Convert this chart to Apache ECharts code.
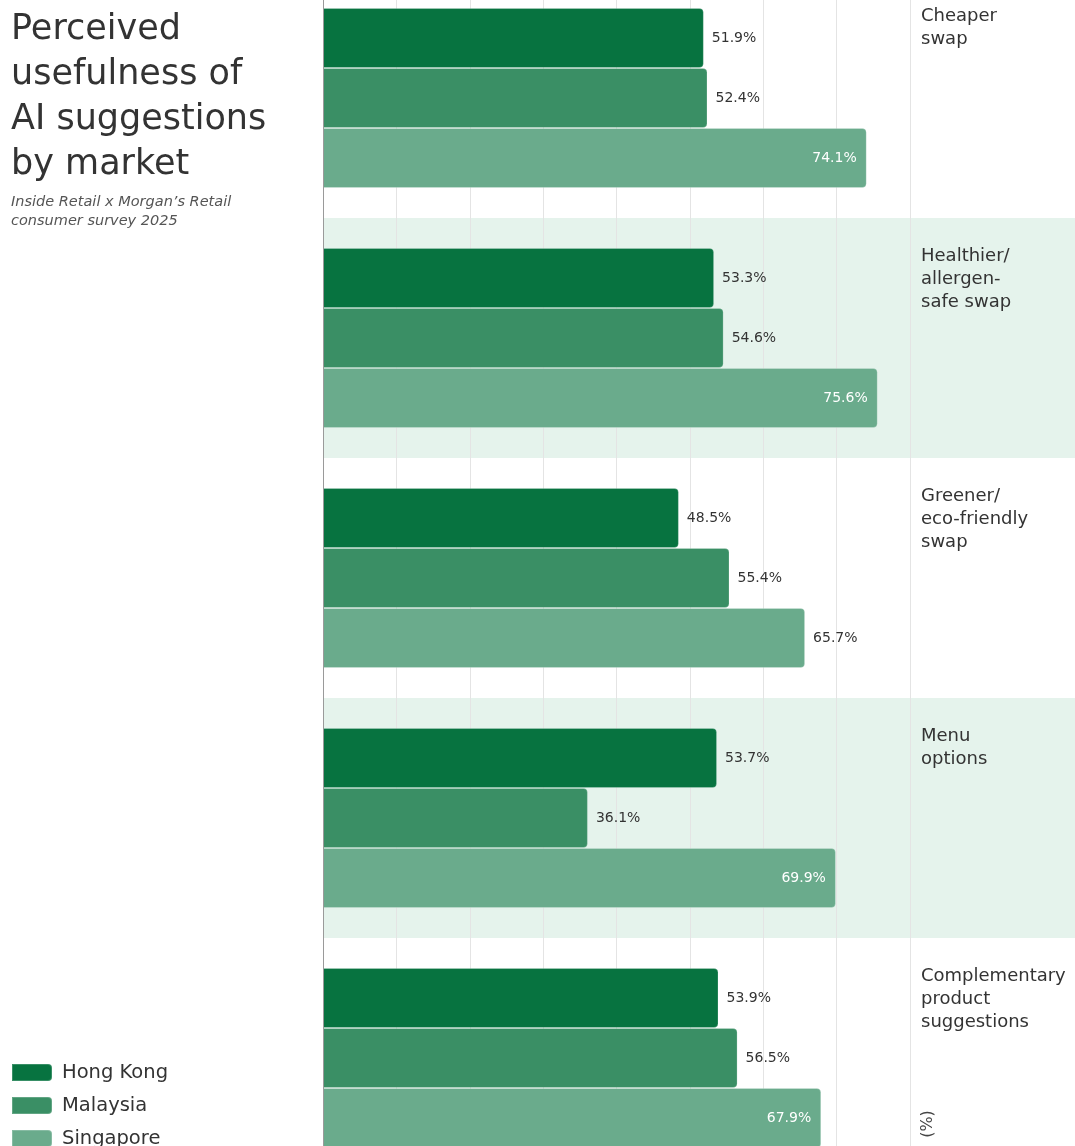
<!DOCTYPE html>
<html>
<head>
<meta charset="utf-8">
<script src="https://cdn.jsdelivr.net/npm/echarts@6/dist/echarts.min.js"></script>
<style>
  html, body { margin: 0; padding: 0; background: #fff; }
  #chart { width: 1075px; height: 1146px; }
</style>
</head>
<body>
<div id="chart"></div>
<script>
// Survey categories (line breaks as shown beside each group)
const categories = [
  'Cheaper\nswap',
  'Healthier/\nallergen-\nsafe swap',
  'Greener/\neco-friendly\nswap',
  'Menu\noptions',
  'Complementary\nproduct\nsuggestions'
];
const markets = ['Hong Kong', 'Malaysia', 'Singapore'];
const hongKong  = [51.9, 53.3, 48.5, 53.7, 53.9];
const malaysia  = [52.4, 54.6, 55.4, 36.1, 56.5];
const singapore = [74.1, 75.6, 65.7, 69.9, 67.9];
const shadedGroups = [false, true, false, true, false];

const colors = ['#077340', '#3a8f65', '#6aab8c'];
const FONT = 'DejaVu Sans';

const chart = echarts.init(document.getElementById('chart'));

const outsideLabel = {
  show: true, position: 'right', distance: 8,
  color: '#333', fontSize: 14, fontFamily: FONT,
  formatter: p => p.value.toFixed(1) + '%'
};
const insideLabel = {
  show: true, position: 'insideRight', distance: 10,
  color: '#fff', fontSize: 14, fontFamily: FONT,
  formatter: p => p.value.toFixed(1) + '%'
};

function barSeries(name, values, idx, labelFor) {
  return {
    name, type: 'bar', xAxisIndex: 0, yAxisIndex: 0,
    barWidth: 60, barGap: '0%', z: 3,
    itemStyle: { color: colors[idx], borderRadius: [0, 4, 4, 0],
                 borderColor: 'rgba(255,255,255,0.2)', borderWidth: 1 },
    data: values.map(v => ({ value: v, label: labelFor(v) })),
    emphasis: { disabled: true }
  };
}

const option = {
  animation: false,
  title: {
    text: 'Perceived\nusefulness of\nAI suggestions\nby market',
    subtext: 'Inside Retail x Morgan\u2019s Retail\nconsumer survey 2025',
    left: 11, top: 7, padding: 0, itemGap: 6,
    textStyle: { fontFamily: FONT, fontSize: 35, fontWeight: 'normal', color: '#333', lineHeight: 45 },
    subtextStyle: { fontFamily: FONT, fontSize: 14.5, fontStyle: 'italic', color: '#555', lineHeight: 19 }
  },
  legend: {
    orient: 'vertical', left: 11, top: 1062, height: 140, padding: 0,
    itemWidth: 40, itemHeight: 17, itemGap: 12,
    icon: 'path://M0,0 H36 A4,4 0 0 1 40,4 V13 A4,4 0 0 1 36,17 H0 Z',
    data: markets,
    textStyle: { fontFamily: FONT, fontSize: 19.5, lineHeight: 21, color: '#333', padding: [0, 0, 0, 5] }
  },
  grid: [
    { left: 323, width: 587, top: -22, height: 1200, outerBoundsMode: 'none' },
    { left: 323, right: 0, top: -22, height: 1200, outerBoundsMode: 'none' }
  ],
  xAxis: [
    { type: 'value', gridIndex: 0, min: 0, max: 80, interval: 10,
      axisLabel: { show: false }, axisTick: { show: false }, axisLine: { show: false },
      splitLine: { show: true, lineStyle: { color: '#e4e4e4', width: 1 } }, z: 1 },
    { type: 'value', gridIndex: 1, min: 0, max: 1, show: false }
  ],
  yAxis: [
    { type: 'category', gridIndex: 0, data: categories, inverse: true,
      axisLabel: { show: false }, axisTick: { show: false },
      axisLine: { show: true, lineStyle: { color: '#9a9a9a', width: 1 } }, z: 4 },
    { type: 'category', gridIndex: 1, data: categories, inverse: true, show: false }
  ],
  series: [
    // shaded bands and category captions
    {
      name: 'bands', type: 'bar', xAxisIndex: 1, yAxisIndex: 1,
      barWidth: '100%', z: -1, silent: true,
      data: categories.map((c, i) => ({
        value: 1,
        itemStyle: { color: shadedGroups[i] ? '#e5f3ec' : 'rgba(0,0,0,0)' }
      })),
      label: {
        show: true, position: [598, 27], align: 'left', verticalAlign: 'top',
        fontFamily: FONT, fontSize: 18, lineHeight: 23, color: '#333',
        formatter: p => p.name
      }
    },
    barSeries('Hong Kong', hongKong, 0, () => outsideLabel),
    barSeries('Malaysia', malaysia, 1, () => outsideLabel),
    barSeries('Singapore', singapore, 2, v => (v >= 67 ? insideLabel : outsideLabel))
  ],
  graphic: [
    { type: 'text', x: 928, y: 1124, rotation: Math.PI / 2,
      style: { text: '(%)', fontFamily: FONT, fontSize: 16, fill: '#444',
               align: 'center', verticalAlign: 'middle' } }
  ]
};

chart.setOption(option);
</script>
</body>
</html>
